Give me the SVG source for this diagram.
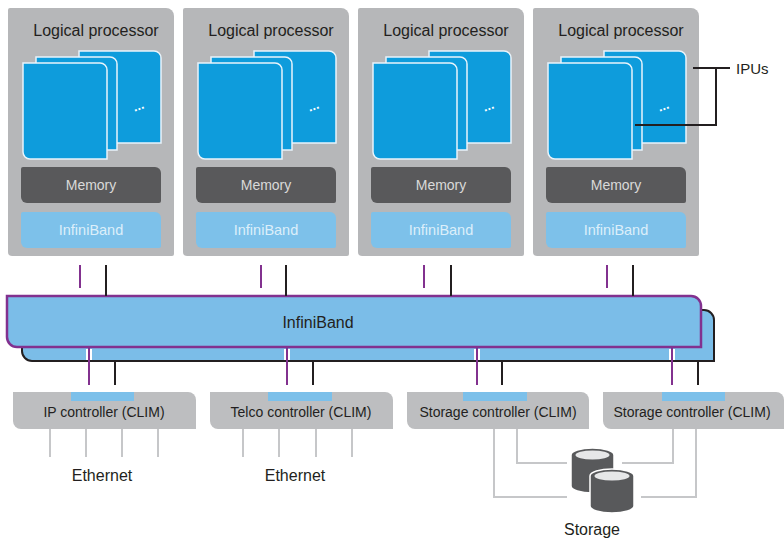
<svg xmlns="http://www.w3.org/2000/svg" width="784" height="539" viewBox="0 0 784 539">
<style>
text{font-family:"Liberation Sans","DejaVu Sans",sans-serif}
.lp{fill:#b6b7b9}
.card{fill:#0e9cdc;stroke:#e9f4fb;stroke-width:1.5}
.mem{fill:#59595b}
.ib{fill:#7dc1ea}
.title{font-size:16px;fill:#231f20;text-anchor:middle}
.memt{font-size:14px;fill:#d9d9d9;text-anchor:middle}
.ibt{font-size:14.5px;fill:#dceffa;text-anchor:middle}
.dots{font-size:13px;fill:#ffffff;text-anchor:middle;font-weight:bold}
.ctl{fill:#bdbec0}
.tab{fill:#7cc0ea}
.ctlt{font-size:14px;fill:#231f20;text-anchor:middle}
.lbl{font-size:16px;fill:#231f20;text-anchor:middle}
.pur{stroke:#82318f;stroke-width:2;fill:none}
.blk{stroke:#231f20;stroke-width:2;fill:none}
.gry{stroke:#c6c7c9;stroke-width:2;fill:none}
.knock{stroke:#ffffff;stroke-width:6;fill:none}
.cyl{fill:#58595b;stroke:#ffffff;stroke-width:1.5}
.cyltop{fill:#e6e7e8}
</style>
<defs>
<g id="lpc">
<path class="lp" d="M2,8 H158 A8,8 0 0 1 166,16 V254 A2,2 0 0 1 164,256 H4 A4,4 0 0 1 0,252 V10 A2,2 0 0 1 2,8 Z"/>
<path class="card" d="M71,51 H146 A7,7 0 0 1 153,58 V143 H78 A7,7 0 0 1 71,136 Z"/>
<path class="card" d="M28,57 H102 A7,7 0 0 1 109,64 V150 H35 A7,7 0 0 1 28,143 Z"/>
<path class="card" d="M15,63 H92 A7,7 0 0 1 99,70 V159 H22 A7,7 0 0 1 15,152 Z"/>
<path class="mem" d="M15,167 H147 A6,6 0 0 1 153,173 V201 A2,2 0 0 1 151,203 H19 A6,6 0 0 1 13,197 V169 A2,2 0 0 1 15,167 Z"/>
<path class="ib" d="M15,212 H147 A6,6 0 0 1 153,218 V246 A2,2 0 0 1 151,248 H19 A6,6 0 0 1 13,242 V214 A2,2 0 0 1 15,212 Z"/>
</g>
</defs>

<g id="lp1" transform="translate(8,0)">
<use href="#lpc"/>
<text class="title" x="88" y="36">Logical processor</text>
<text class="dots" x="131" y="110" transform="rotate(-20 131 108)">...</text>
<text class="memt" x="83" y="190">Memory</text>
<text class="ibt" x="83" y="235">InfiniBand</text>
</g>
<g id="lp2" transform="translate(183,0)">
<use href="#lpc"/>
<text class="title" x="88" y="36">Logical processor</text>
<text class="dots" x="131" y="110" transform="rotate(-20 131 108)">...</text>
<text class="memt" x="83" y="190">Memory</text>
<text class="ibt" x="83" y="235">InfiniBand</text>
</g>
<g id="lp3" transform="translate(358,0)">
<use href="#lpc"/>
<text class="title" x="88" y="36">Logical processor</text>
<text class="dots" x="131" y="110" transform="rotate(-20 131 108)">...</text>
<text class="memt" x="83" y="190">Memory</text>
<text class="ibt" x="83" y="235">InfiniBand</text>
</g>
<g id="lp4" transform="translate(533,0)">
<use href="#lpc"/>
<text class="title" x="88" y="36">Logical processor</text>
<text class="dots" x="131" y="110" transform="rotate(-20 131 108)">...</text>
<text class="memt" x="83" y="190">Memory</text>
<text class="ibt" x="83" y="235">InfiniBand</text>
</g>

<g id="ipus">
<path class="blk" d="M693,68 H730 M716,68 V125 H635"/>
<text x="736" y="74" style="font-size:15px;fill:#231f20">IPUs</text>
</g>

<g id="bus">
<path d="M22,310 H704 A10,10 0 0 1 714,320 V361 H32 A10,10 0 0 1 22,351 Z" fill="#7bbde8" stroke="#231f20" stroke-width="2"/>
<path d="M7,296 H691 A10,10 0 0 1 701,306 V347 H17 A10,10 0 0 1 7,337 Z" fill="#7bbde8" stroke="#82318f" stroke-width="2.5"/>
<text x="318" y="328" style="font-size:16px;fill:#231f20;text-anchor:middle">InfiniBand</text>
</g>

<g id="connectors">
<path class="pur" d="M80,265 V288 M261,265 V288 M424,265 V288 M607,265 V288"/>
<path class="blk" d="M106,265 V296 M286,265 V296 M451,265 V296 M633,265 V296"/>
<path class="knock" d="M89,349 V360 M287,349 V360 M477,349 V360 M672,349 V360"/>
<path class="pur" d="M89,348 V385 M287,348 V385 M477,348 V385 M672,348 V385"/>
<path class="blk" d="M115,361 V385 M313,361 V385 M502,361 V385 M698,361 V385"/>
<path class="gry" d="M50,429 V457 M86,429 V457 M122,429 V457 M158,429 V457"/>
<path class="gry" d="M243,429 V457 M279,429 V457 M316,429 V457 M352,429 V457"/>
<path class="gry" d="M494,429 V497 H567 M517,429 V463 H567 M673,429 V463 H622 M696,429 V497 H641"/>
</g>

<g id="ipctl">
<path class="ctl" d="M13,392 H188 A8,8 0 0 1 196,400 V429 H21 A8,8 0 0 1 13,421 Z"/>
<rect class="tab" x="71" y="392" width="63" height="9"/>
<text class="ctlt" x="104" y="417">IP controller (CLIM)</text>
</g>
<g id="telcoctl">
<path class="ctl" d="M210,392 H385 A8,8 0 0 1 393,400 V429 H218 A8,8 0 0 1 210,421 Z"/>
<rect class="tab" x="268" y="392" width="64" height="9"/>
<text class="ctlt" x="301" y="417">Telco controller (CLIM)</text>
</g>
<g id="storctl1">
<path class="ctl" d="M407,392 H581 A8,8 0 0 1 589,400 V429 H415 A8,8 0 0 1 407,421 Z"/>
<rect class="tab" x="463" y="392" width="64" height="9"/>
<text class="ctlt" x="498" y="417">Storage controller (CLIM)</text>
</g>
<g id="storctl2">
<path class="ctl" d="M603,392 H776 A8,8 0 0 1 784,400 V429 H611 A8,8 0 0 1 603,421 Z"/>
<rect class="tab" x="662" y="392" width="63" height="9"/>
<text class="ctlt" x="692" y="417">Storage controller (CLIM)</text>
</g>

<g id="eth1"><text class="lbl" x="102" y="481">Ethernet</text></g>
<g id="eth2"><text class="lbl" x="295" y="481">Ethernet</text></g>

<g id="storage">
<path class="cyl" d="M571,455 V486 A21.5,7 0 0 0 614,486 V455 A21.5,7 0 0 0 571,455 Z"/>
<ellipse class="cyltop" cx="592.5" cy="455" rx="17" ry="4.5"/>
<path class="cyl" d="M590,476 V506 A22,7 0 0 0 634,506 V476 A22,7 0 0 0 590,476 Z"/>
<ellipse class="cyltop" cx="612" cy="476" rx="17.5" ry="4.5"/>
<text class="lbl" x="592" y="535">Storage</text>
</g>
</svg>
